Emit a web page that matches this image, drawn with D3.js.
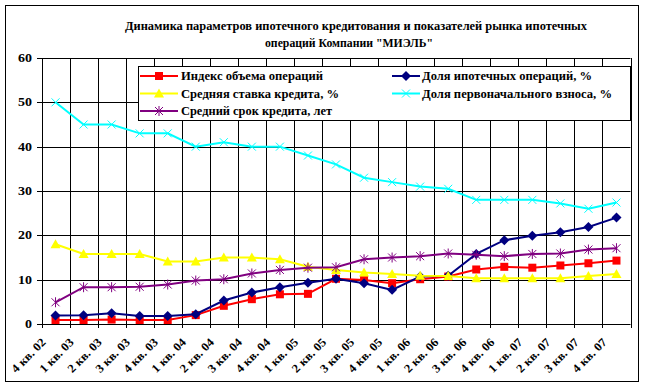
<!DOCTYPE html>
<html><head><meta charset="utf-8">
<script src="https://cdn.jsdelivr.net/npm/d3@7"></script>
<style>body{margin:0;background:#fff}svg{display:block}</style>
</head><body><svg id="c" width="645" height="388"></svg>
<script>
const categories = ["4 кв. 02","1 кв. 03","2 кв. 03","3 кв. 03","4 кв. 03","1 кв. 04","2 кв. 04","3 кв. 04","4 кв. 04","1 кв. 05","2 кв. 05","3 кв. 05","4 кв. 05","1 кв. 06","2 кв. 06","3 кв. 06","4 кв. 06","1 кв. 07","2 кв. 07","3 кв. 07","4 кв. 07"];
const volumeIndex = [0.9,0.9,1.0,0.9,0.9,2.0,4.1,5.6,6.7,6.8,10.2,9.9,9.2,10.1,10.7,12.3,12.9,12.7,13.2,13.7,14.3];
const mortgageShare = [1.9,2.0,2.4,1.8,1.8,2.2,5.3,7.1,8.3,9.3,10.2,9.2,7.7,10.7,10.9,15.8,18.9,19.9,20.7,21.9,24.0];
const avgRate = [18.0,15.8,15.8,15.8,14.1,14.1,15.0,15.0,14.6,12.9,12.2,11.6,11.3,10.9,10.8,10.3,10.3,10.3,10.3,10.8,11.3];
const downPayment = [50,45,45,43,43,40,41,40,40,38,36,33,32,31,30.5,28,28,28,27.2,26,27.4];
const avgTerm = [4.9,8.3,8.3,8.4,8.9,9.8,10.1,11.4,12.2,12.7,12.8,14.6,15.0,15.3,15.9,15.6,15.3,15.8,15.9,16.8,17.1];
const yTicks = [0,10,20,30,40,50,60];
const titleLines = ["Динамика параметров ипотечного кредитования и показателей рынка ипотечных","операций Компании \"МИЭЛЬ\""];

const series = [
  {name:"Индекс объема операций", values:volumeIndex, color:"#FF0000", marker:"square", col:0,row:0},
  {name:"Доля ипотечных операций, %", values:mortgageShare, color:"#000080", marker:"diamond", col:1,row:0},
  {name:"Средняя ставка кредита, %", values:avgRate, color:"#FFFF00", marker:"triangle", col:0,row:1},
  {name:"Доля первоначального взноса, %", values:downPayment, color:"#00FFFF", marker:"x", col:1,row:1},
  {name:"Средний срок кредита, лет", values:avgTerm, color:"#800080", marker:"star", col:0,row:2}
];

const FONT = "'Liberation Serif', 'Times New Roman', serif";
const svg = d3.select("#c");
svg.append("rect").attr("x",5.5).attr("y",5.5).attr("width",633).attr("height",376).attr("fill","#fff").attr("stroke","#000").attr("stroke-width",1);

function txt(sel){ return sel.style("font-family",FONT).style("font-weight","bold").attr("fill","#000"); }

const L=41.5, R=630.5, T=58, B=324;
const x = d3.scaleBand().domain(categories).range([L,R]);
const y = d3.scaleLinear().domain([0,60]).range([B,T]);
const px = v => Math.round(v)+0.5;

// title
const tl = [{x:356,y:30,len:462},{x:349,y:47,len:168}];
titleLines.forEach((t,i)=>{
  txt(svg.append("text")).attr("x",tl[i].x).attr("y",tl[i].y).attr("text-anchor","middle")
    .attr("font-size",12).attr("textLength",tl[i].len).attr("lengthAdjust","spacingAndGlyphs").text(t);
});

// grid
const g = svg.append("g");
g.selectAll("line.h").data(yTicks).join("line")
  .attr("x1",37).attr("x2",R).attr("y1",d=>px(y(d))).attr("y2",d=>px(y(d)))
  .attr("stroke","#000").attr("stroke-width",1);
const bounds = categories.map(c=>x(c)).concat([R]);
g.selectAll("line.v").data(bounds).join("line")
  .attr("x1",d=>px(d)).attr("x2",d=>px(d)).attr("y1",T).attr("y2",B+4)
  .attr("stroke","#000").attr("stroke-width",1);

// y labels
txt(g.selectAll("text.yl").data(yTicks).join("text"))
  .attr("x",32).attr("y",d=>y(d)+4).attr("text-anchor","end").attr("font-size",12)
  .attr("textLength",d=>String(d).length*7).attr("lengthAdjust","spacingAndGlyphs").text(d=>d);

// x labels
txt(g.selectAll("text.xl").data(categories).join("text"))
  .attr("transform",d=>`translate(${x(d)+x.bandwidth()/2-9},${B+19}) rotate(-45)`)
  .attr("text-anchor","end").attr("font-size",12)
  .attr("textLength",43).attr("lengthAdjust","spacingAndGlyphs").text(d=>d);

function drawMarker(sel, type, color){
  if(type==="square") sel.append("rect").attr("x",-4).attr("y",-4).attr("width",8).attr("height",8).attr("fill",color);
  else if(type==="diamond") sel.append("path").attr("d","M0,-5L5,0L0,5L-5,0Z").attr("fill",color);
  else if(type==="triangle") sel.append("path").attr("d","M0,-5L5,4L-5,4Z").attr("fill",color);
  else if(type==="x") sel.append("path").attr("d","M-4,-4L4,4M-4,4L4,-4").attr("stroke",color).attr("stroke-width",1).attr("fill","none");
  else if(type==="star") sel.append("path").attr("d","M-4,-4L4,4M-4,4L4,-4M0,-5L0,5").attr("stroke",color).attr("stroke-width",1).attr("fill","none");
}

const line = d3.line().x((d,i)=>x(categories[i])+x.bandwidth()/2).y(d=>y(d));
series.forEach(s=>{
  const sg = svg.append("g");
  sg.append("path").attr("d",line(s.values)).attr("fill","none").attr("stroke",s.color).attr("stroke-width",2);
  s.values.forEach((v,i)=>{
    const m = sg.append("g").attr("transform",`translate(${x(categories[i])+x.bandwidth()/2},${y(v)})`);
    drawMarker(m,s.marker,s.color);
  });
});

// legend
const lg = svg.append("g");
lg.append("rect").attr("x",138.5).attr("y",66.5).attr("width",492).attr("height",54).attr("fill","#fff").attr("stroke","#000");
const colX = [{l1:140,l2:178,tx:181,w:[142,158,151]},{l1:392,l2:420,tx:422,w:[170,190]}];
const rowY = [76,93.5,111];
series.forEach(s=>{
  const c = colX[s.col], yy = rowY[s.row];
  lg.append("line").attr("x1",c.l1).attr("x2",c.l2).attr("y1",yy).attr("y2",yy).attr("stroke",s.color).attr("stroke-width",2);
  const m = lg.append("g").attr("transform",`translate(${(c.l1+c.l2)/2},${yy})`);
  drawMarker(m,s.marker,s.color);
  txt(lg.append("text")).attr("x",c.tx).attr("y",yy+4).attr("font-size",12)
    .attr("textLength",c.w[s.row]).attr("lengthAdjust","spacingAndGlyphs").text(s.name);
});
</script></body></html>
